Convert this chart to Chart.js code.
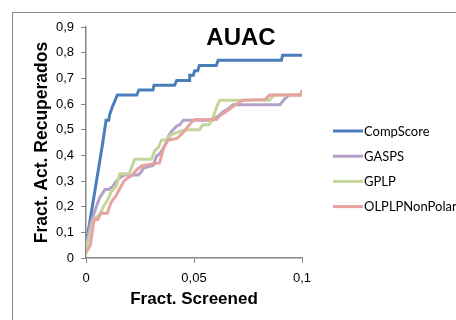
<!DOCTYPE html>
<html><head><meta charset="utf-8">
<script src="https://cdn.jsdelivr.net/npm/chart.js@4/dist/chart.umd.min.js"></script>
<style>
html,body{margin:0;padding:0;background:#fff;overflow:hidden;}
#wrap{position:absolute;left:0;top:0;width:456px;height:320px;}
#frame{position:absolute;left:12px;top:12px;width:460px;height:330px;border:1.5px solid #8c8c8c;box-sizing:border-box;}
canvas{position:absolute;left:0;top:0;}
</style></head><body>
<div id="wrap"><div id="frame"></div><canvas id="c" width="456" height="320"></canvas></div>
<script>
const chartTitle = "AUAC";
const xTitle = "Fract. Screened";
const yTitle = "Fract. Act. Recuperados";
const seriesNames = ["CompScore", "GASPS", "GPLP", "OLPLPNonPolar"];
const seriesColors = ["#4a7ebb", "#b3a2c7", "#c3d69b", "#e6a39f"];

const compScoreX = [0,0.0077,0.0093,0.0105,0.011,0.0122,0.0128,0.0145,0.0235,0.0245,0.031,0.0315,0.041,0.042,0.0477,0.048,0.0497,0.0503,0.0517,0.0525,0.0603,0.0612,0.0905,0.091,0.1];
const compScoreY = [0.05,0.446,0.537,0.537,0.56,0.589,0.6,0.635,0.635,0.655,0.655,0.673,0.673,0.692,0.692,0.712,0.712,0.73,0.73,0.75,0.75,0.77,0.77,0.79,0.79];

const gaspsX = [0,0.002,0.005,0.0062,0.0075,0.0088,0.0106,0.0125,0.014,0.0155,0.0175,0.0242,0.0255,0.0265,0.031,0.0327,0.0345,0.036,0.0375,0.0381,0.0397,0.042,0.0435,0.045,0.0588,0.06,0.0617,0.0635,0.0656,0.068,0.0898,0.092,0.094,0.1];
const gaspsY = [0.04,0.13,0.205,0.232,0.25,0.267,0.267,0.28,0.3,0.31,0.323,0.323,0.335,0.35,0.36,0.397,0.41,0.43,0.455,0.474,0.494,0.514,0.52,0.537,0.537,0.545,0.557,0.57,0.58,0.597,0.597,0.62,0.635,0.635];

const gplpX = [0,0.002,0.0034,0.0065,0.008,0.0096,0.0118,0.014,0.0156,0.02,0.0225,0.0302,0.032,0.0335,0.035,0.037,0.0395,0.044,0.0465,0.0525,0.054,0.057,0.0585,0.061,0.062,0.085,0.087,0.1];
const gplpY = [0.03,0.1,0.15,0.17,0.2,0.22,0.26,0.28,0.328,0.328,0.385,0.385,0.42,0.43,0.46,0.46,0.48,0.495,0.5,0.5,0.518,0.52,0.54,0.6,0.615,0.615,0.635,0.635];

const olplpX = [0,0.002,0.0037,0.0055,0.0068,0.0099,0.0114,0.0127,0.0137,0.0153,0.0176,0.019,0.0214,0.0236,0.026,0.034,0.035,0.036,0.038,0.042,0.044,0.047,0.049,0.0505,0.0605,0.062,0.0648,0.068,0.0725,0.083,0.085,0.0995,0.1];
const olplpY = [0.02,0.05,0.148,0.15,0.174,0.174,0.213,0.23,0.24,0.265,0.3,0.31,0.323,0.345,0.36,0.37,0.4,0.43,0.46,0.465,0.48,0.51,0.53,0.54,0.54,0.555,0.57,0.59,0.615,0.618,0.635,0.635,0.655];

const xTicks = [0, 0.05, 0.1];
const yTicks = [0,0.1,0.2,0.3,0.4,0.5,0.6,0.7,0.8,0.9];

function pts(xs, ys){ return xs.map((x,i)=>({x:x, y:ys[i]})); }
const allX = [compScoreX, gaspsX, gplpX, olplpX];
const allY = [compScoreY, gaspsY, gplpY, olplpY];
const fmt = v => String(Number(v.toFixed(2))).replace('.', ',');

const overlay = {
  id:'overlay',
  afterDraw(chart){
    const ctx = chart.ctx;
    ctx.save();
    ctx.fillStyle = '#000';
    ctx.textAlign = 'center'; ctx.textBaseline = 'middle';
    ctx.font = 'bold 24px "Liberation Sans", Arial, sans-serif';
    ctx.fillText(chartTitle, 241, 38);
    ctx.textAlign = 'left';
    ctx.font = '13px Lato, "Liberation Sans", sans-serif';
    seriesNames.forEach((n,i)=>{
      const y = 131 + i*25.2;
      ctx.strokeStyle = seriesColors[i]; ctx.lineWidth = 3; ctx.lineCap='butt';
      ctx.beginPath(); ctx.moveTo(333, y); ctx.lineTo(363, y); ctx.stroke();
      ctx.fillStyle = '#000';
      ctx.fillText(n, 364, y+0.5);
    });
    ctx.restore();
  }
};

new Chart(document.getElementById('c'), {
  type: 'line',
  data: {
    datasets: seriesNames.map((n,i)=>({
      label: n,
      data: pts(allX[i], allY[i]),
      borderColor: seriesColors[i],
      backgroundColor: seriesColors[i],
      borderWidth: 3,
      pointRadius: 0,
      tension: 0,
      fill: false
    })).reverse()
  },
  options: {
    responsive: false,
    animation: false,
    layout: { padding: { left: 32, right: 154, top: 27, bottom: 10 } },
    plugins: { legend: { display: false }, title: { display: false }, tooltip: { enabled: false } },
    scales: {
      x: {
        type: 'linear', min: 0, max: 0.1,
        afterBuildTicks: s => { s.ticks = xTicks.map(v=>({value:v})); },
        ticks: { callback: v => fmt(v), font: { size: 13, family: '"Liberation Sans", Arial' }, color: '#000', padding: 8, maxRotation: 0 },
        grid: { drawOnChartArea: false, drawTicks: true, tickLength: 5, color: '#868686' },
        border: { color: '#868686', width: 1.5 },
        title: { display: true, text: xTitle, font: { size: 17, weight: 'bold', family: '"Liberation Sans", Arial' }, color: '#000', padding: { top: 6, bottom: 0 } },
        afterFit: s => { s.height = 320 - 258 - 10; }
      },
      y: {
        type: 'linear', min: 0, max: 0.9,
        afterBuildTicks: s => { s.ticks = yTicks.map(v=>({value:v})); },
        ticks: { callback: v => fmt(v), font: { size: 13, family: '"Liberation Sans", Arial' }, color: '#000', padding: 7 },
        grid: { drawOnChartArea: false, drawTicks: true, tickLength: 5, color: '#868686' },
        border: { color: '#868686', width: 1.5 },
        title: { display: true, text: yTitle, font: { size: 17.5, weight: 'bold', family: '"Liberation Sans", Arial' }, color: '#000', padding: { top: 0, bottom: 4 } },
        afterFit: s => { s.width = 86 - 32; }
      }
    }
  },
  plugins: [overlay]
});
</script></body></html>
